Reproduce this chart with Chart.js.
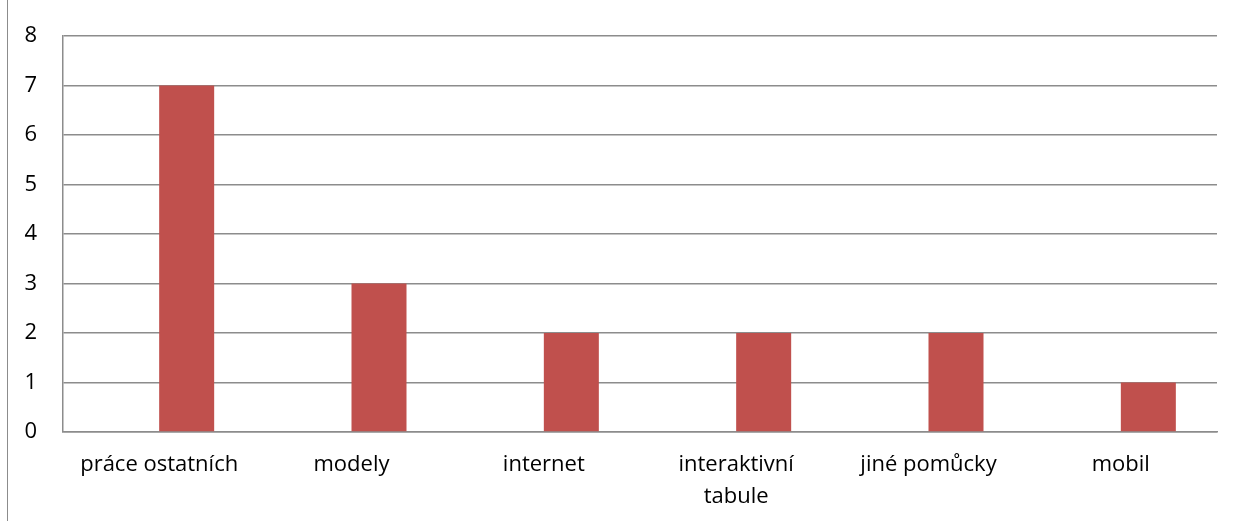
<!DOCTYPE html>
<html>
<head>
<meta charset="utf-8">
<script src="https://cdn.jsdelivr.net/npm/chart.js@4"></script>
<style>
    body { margin: 0; background: #fff; }
    #wrap { position: relative; width: 1236px; height: 521px; }
    #edge { position: absolute; left: 7px; top: 0; width: 1px; height: 521px; background: #8c8c8c; }
</style>
</head>
<body>
<div id="wrap">
    <div id="edge"></div>
    <canvas id="barChart" width="1236" height="521"></canvas>
</div>
<script>
var categories = ['práce ostatních', 'modely', 'internet', ['interaktivní', 'tabule'], 'jiné pomůcky', 'mobil'];
var emptySeries = [null, null, null, null, null, null];
var counts = [7, 3, 2, 2, 2, 1];
var yTicks = [0, 1, 2, 3, 4, 5, 6, 7, 8];

var chartData = {
    labels: categories,
    datasets: [
        {
            label: '',
            data: emptySeries,
            backgroundColor: 'rgba(0,0,0,0)'
        },
        {
            label: 'počet',
            data: counts,
            backgroundColor: '#C0504D'
        }
    ]
};

var ctx = document.getElementById('barChart').getContext('2d');
var barChart = new Chart(ctx, {
    type: 'bar',
    data: chartData,
    options: {
        responsive: false,
        animation: false,
        layout: { padding: { top: 36, right: 19, left: 0, bottom: 0 } },
        datasets: {
            bar: { categoryPercentage: 0.572, barPercentage: 1.0 }
        },
        plugins: {
            legend: { display: false },
            tooltip: { enabled: false }
        },
        scales: {
            x: {
                grid: { display: false, drawTicks: false },
                border: { color: '#8c8c8c', width: 1.5 },
                ticks: {
                    color: '#000',
                    font: { family: 'Open Sans', size: 22, lineHeight: 1.45 },
                    padding: 17,
                    maxRotation: 0,
                    autoSkip: false
                },
                afterFit: function (scale) {
                    scale.height = 89;
                    scale.paddingLeft = 0;
                    scale.paddingRight = 0;
                }
            },
            y: {
                min: 0,
                max: yTicks[yTicks.length - 1],
                grid: { color: '#8c8c8c', lineWidth: 1.5, drawTicks: false },
                border: { color: '#8c8c8c', width: 1.5 },
                ticks: {
                    stepSize: 1,
                    color: '#000',
                    font: { family: 'Open Sans', size: 22 },
                    padding: 26
                },
                afterFit: function (scale) {
                    scale.width = 63;
                    scale.paddingTop = 0;
                    scale.paddingBottom = 0;
                }
            }
        }
    }
});
</script>
</body>
</html>
